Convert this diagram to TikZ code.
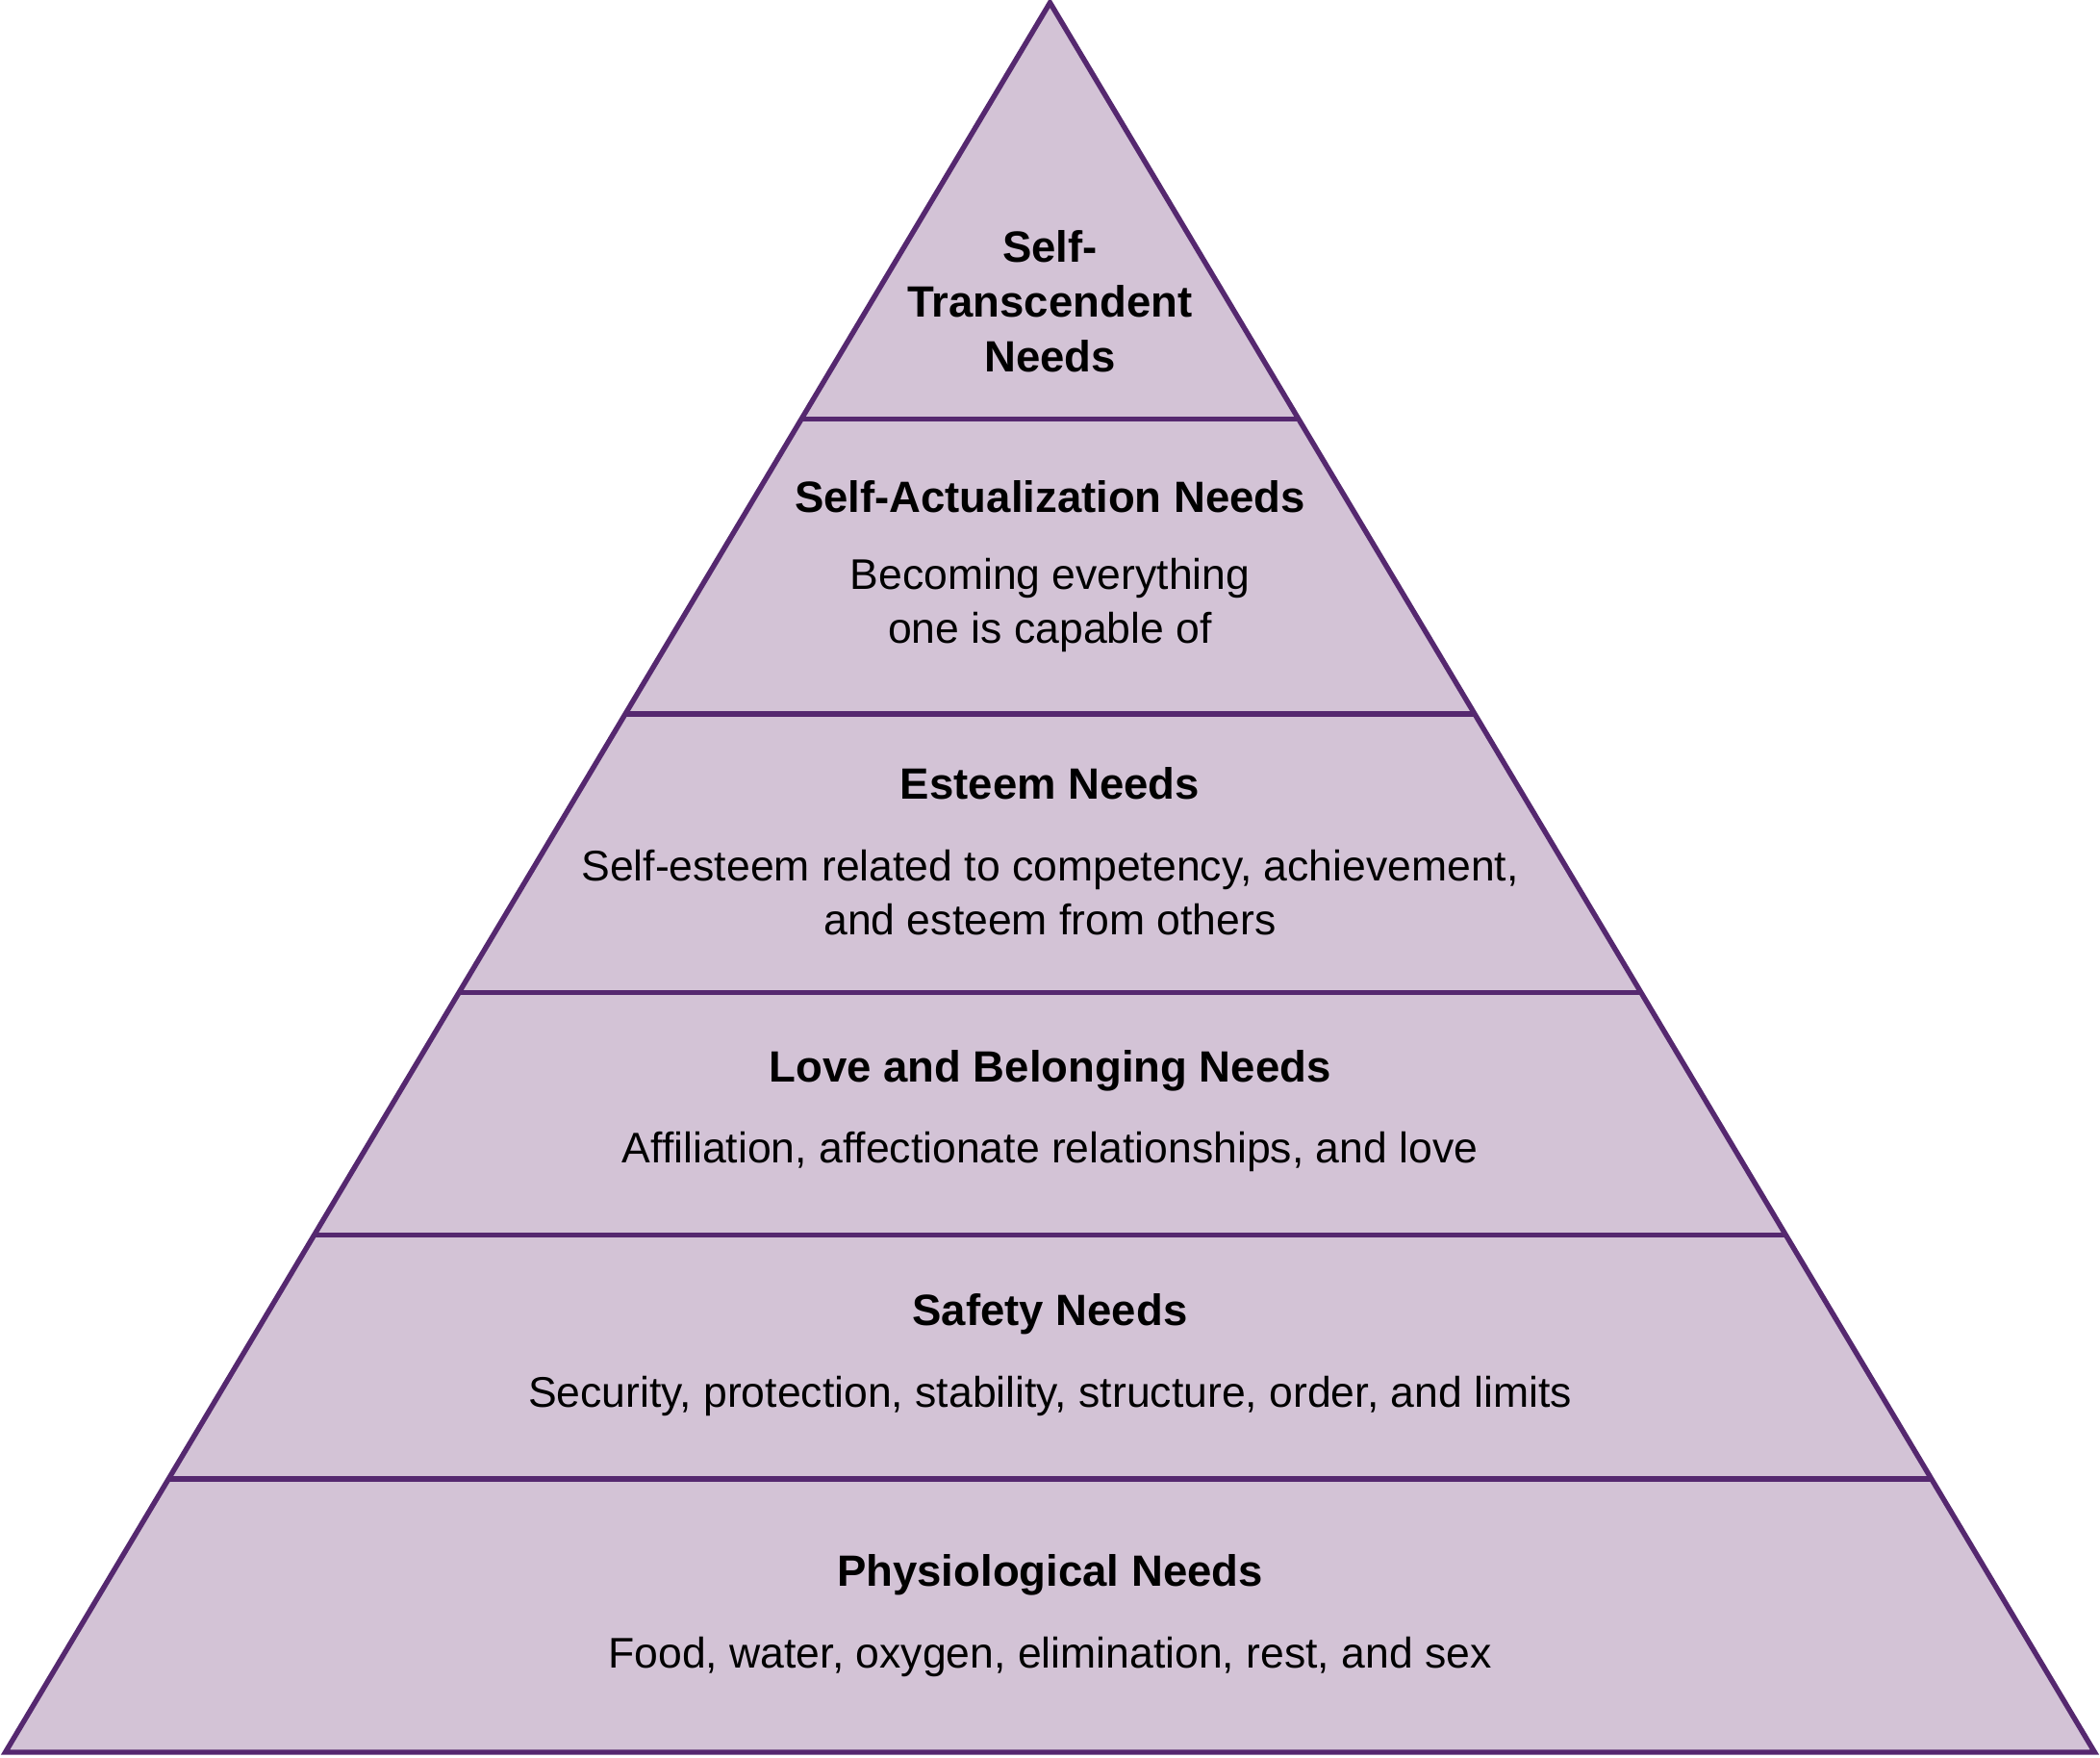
\documentclass[tikz,border=0pt]{standalone}
\usepackage{fontspec}
\setmainfont{Liberation Sans}
\begin{document}
\begin{tikzpicture}[x=0.1mm,y=-0.1mm,
  edge/.style={draw=purpleline,line width=1.1pt,line join=miter},
  ttl/.style={font=\fontsize{9.3}{11.6}\selectfont\bfseries,align=center,inner sep=0},
  txt/.style={font=\fontsize{9.1}{11.4}\selectfont,align=center,inner sep=0}]
\definecolor{purpleline}{HTML}{55286F}
\definecolor{pfill}{HTML}{D3C3D6}
\useasboundingbox (0,0) rectangle (1568,1312);
\coordinate (A) at (784,2);
\coordinate (L) at (4,1308);
\coordinate (R) at (1564,1308);
\fill[pfill] (A) -- (L) -- (R) -- cycle;
\foreach \y/\n in {313/a,533/b,741/c,922/d,1104/e}{
  \path (A) -- (L) coordinate[pos={(\y-2)/1306}] (l\n);
  \path (A) -- (R) coordinate[pos={(\y-2)/1306}] (r\n);
  \draw[edge] (l\n) -- (r\n);
}
\draw[edge] (A) -- (L) -- (R) -- cycle;
\node[ttl] (t1) at (784,225) {Self-\\Transcendent\\Needs};
\node[ttl] (t2) at (784,371) {Self-Actualization Needs};
\node[txt] (d2) at (784,452) {Becoming everything\\one is capable of};
\node[ttl] (t3) at (784,585) {Esteem Needs};
\node[txt] (d3) at (784,666) {Self-esteem related to competency, achievement,\\and esteem from others};
\node[ttl] (t4) at (784,799) {Love and Belonging Needs};
\node[txt] (d4) at (784,860) {Affiliation, affectionate relationships, and love};
\node[ttl] (t5) at (784,981) {Safety Needs};
\node[txt] (d5) at (784,1042) {Security, protection, stability, structure, order, and limits};
\node[ttl] (t6) at (784,1176) {Physiological Needs};
\node[txt] (d6) at (784,1237) {Food, water, oxygen, elimination, rest, and sex};
\end{tikzpicture}
\end{document}
